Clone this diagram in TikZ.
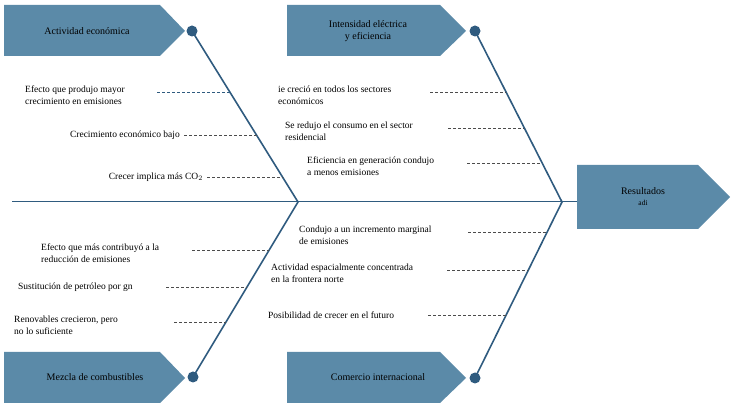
\documentclass[tikz,border=0pt]{standalone}
\usepackage{fontspec}
\setmainfont{Liberation Serif}
\begin{document}
\definecolor{boxc}{HTML}{5B8AA8}
\definecolor{linec}{HTML}{2F5B7F}
\begin{tikzpicture}[x=1pt,y=-1pt,
  bone/.style={linec,line width=1.6pt},
  dline/.style={densely dashed,black!70,line width=0.5pt},
  lbl/.style={font=\fontsize{9.5}{11.5}\selectfont,align=left,inner sep=0pt},
  boxt/.style={font=\fontsize{10}{12}\selectfont,align=center,inner sep=0pt},
  dot/.style={circle,fill=linec,minimum size=11pt,inner sep=0pt}]
\useasboundingbox (0,0) rectangle (732,406);
% spine
\draw[linec,line width=1pt] (12,202) -- (577,202);
% boxes
\fill[boxc] (4,5) -- (160,5) -- (185,31) -- (160,56) -- (4,56) -- cycle;
\fill[boxc] (287,5) -- (440,5) -- (466,31) -- (440,56) -- (287,56) -- cycle;
\fill[boxc] (4,352) -- (160,352) -- (185,378) -- (160,403) -- (4,403) -- cycle;
\fill[boxc] (287,352) -- (440,352) -- (466,378) -- (440,403) -- (287,403) -- cycle;
\fill[boxc] (577,165) -- (698,165) -- (730,197) -- (698,229) -- (577,229) -- cycle;
\node[boxt] (ae) at (87,31) {Actividad económica};
\node[boxt] (ie) at (368,31) {Intensidad eléctrica\\y eficiencia};
\node[boxt] (mc) at (95,377) {Mezcla de combustibles};
\node[boxt] (ci) at (378,377) {Comercio internacional};
\node[boxt] (res) at (643,197) {Resultados\\[-1pt]{\fontsize{7.5}{9}\selectfont\textsc{adi}}};
% dots and bones
\node[dot] (d1) at (192,31) {};
\node[dot] (d2) at (475,31) {};
\node[dot] (d3) at (193,377) {};
\node[dot] (d4) at (475,378) {};
\coordinate (v1) at (298,202);
\coordinate (v2) at (562,202);
\draw[bone] (d1.center) -- (v1) -- (d3.center);
\draw[bone] (d2.center) -- (v2) -- (d4.center);
% left labels
\node[lbl,anchor=north west] (l1) at (25,86) {Efecto que produjo mayor\\crecimiento en emisiones};
\node[lbl,anchor=east] (l2) at (180,135) {Crecimiento económico bajo};
\node[lbl,anchor=east] (l3) at (203,177) {Crecer implica más CO$_2$};
\node[lbl,anchor=north west] (l4) at (41,244) {Efecto que más contribuyó a la\\reducción de emisiones};
\node[lbl,anchor=west] (l5) at (18,287) {Sustitución de petróleo por \textsc{gn}};
\node[lbl,anchor=north west] (l6) at (14,316) {Renovables crecieron, pero\\no lo suficiente};
% right labels
\node[lbl,anchor=north west] (r1) at (278,86) {\textsc{ie} creció en todos los sectores\\económicos};
\node[lbl,anchor=north west] (r2) at (285,122) {Se redujo el consumo en el sector\\residencial};
\node[lbl,anchor=north west] (r3) at (307,157) {Eficiencia en generación condujo\\a menos emisiones};
\node[lbl,anchor=north west] (r4) at (299,226) {Condujo a un incremento marginal\\de emisiones};
\node[lbl,anchor=north west] (r5) at (271,264) {Actividad espacialmente concentrada\\en la frontera norte};
\node[lbl,anchor=west] (r6) at (268,315) {Posibilidad de crecer en el futuro};
% dashes
\coordinate (a1) at (157,92); \coordinate (b1) at (230,92);
\coordinate (a2) at (184,135); \coordinate (b2) at (257,135);
\coordinate (a3) at (207,177); \coordinate (b3) at (283,177);
\coordinate (a4) at (192,250); \coordinate (b4) at (269,250);
\coordinate (a5) at (166,287); \coordinate (b5) at (247,287);
\coordinate (a6) at (174,322); \coordinate (b6) at (226,322);
\coordinate (c1) at (430,92); \coordinate (e1) at (506,92);
\coordinate (c2) at (448,128); \coordinate (e2) at (524,128);
\coordinate (c3) at (467,163); \coordinate (e3) at (542,163);
\coordinate (c4) at (468,232); \coordinate (e4) at (547,232);
\coordinate (c5) at (447,270); \coordinate (e5) at (528,270);
\coordinate (c6) at (428,315); \coordinate (e6) at (506,315);
\draw[dline,linec,line width=0.9pt] (a1) -- (b1);
\foreach \i in {2,...,6} {\draw[dline] (a\i) -- (b\i);}
\foreach \i in {1,...,6} {\draw[dline] (c\i) -- (e\i);}
\end{tikzpicture}
\end{document}
